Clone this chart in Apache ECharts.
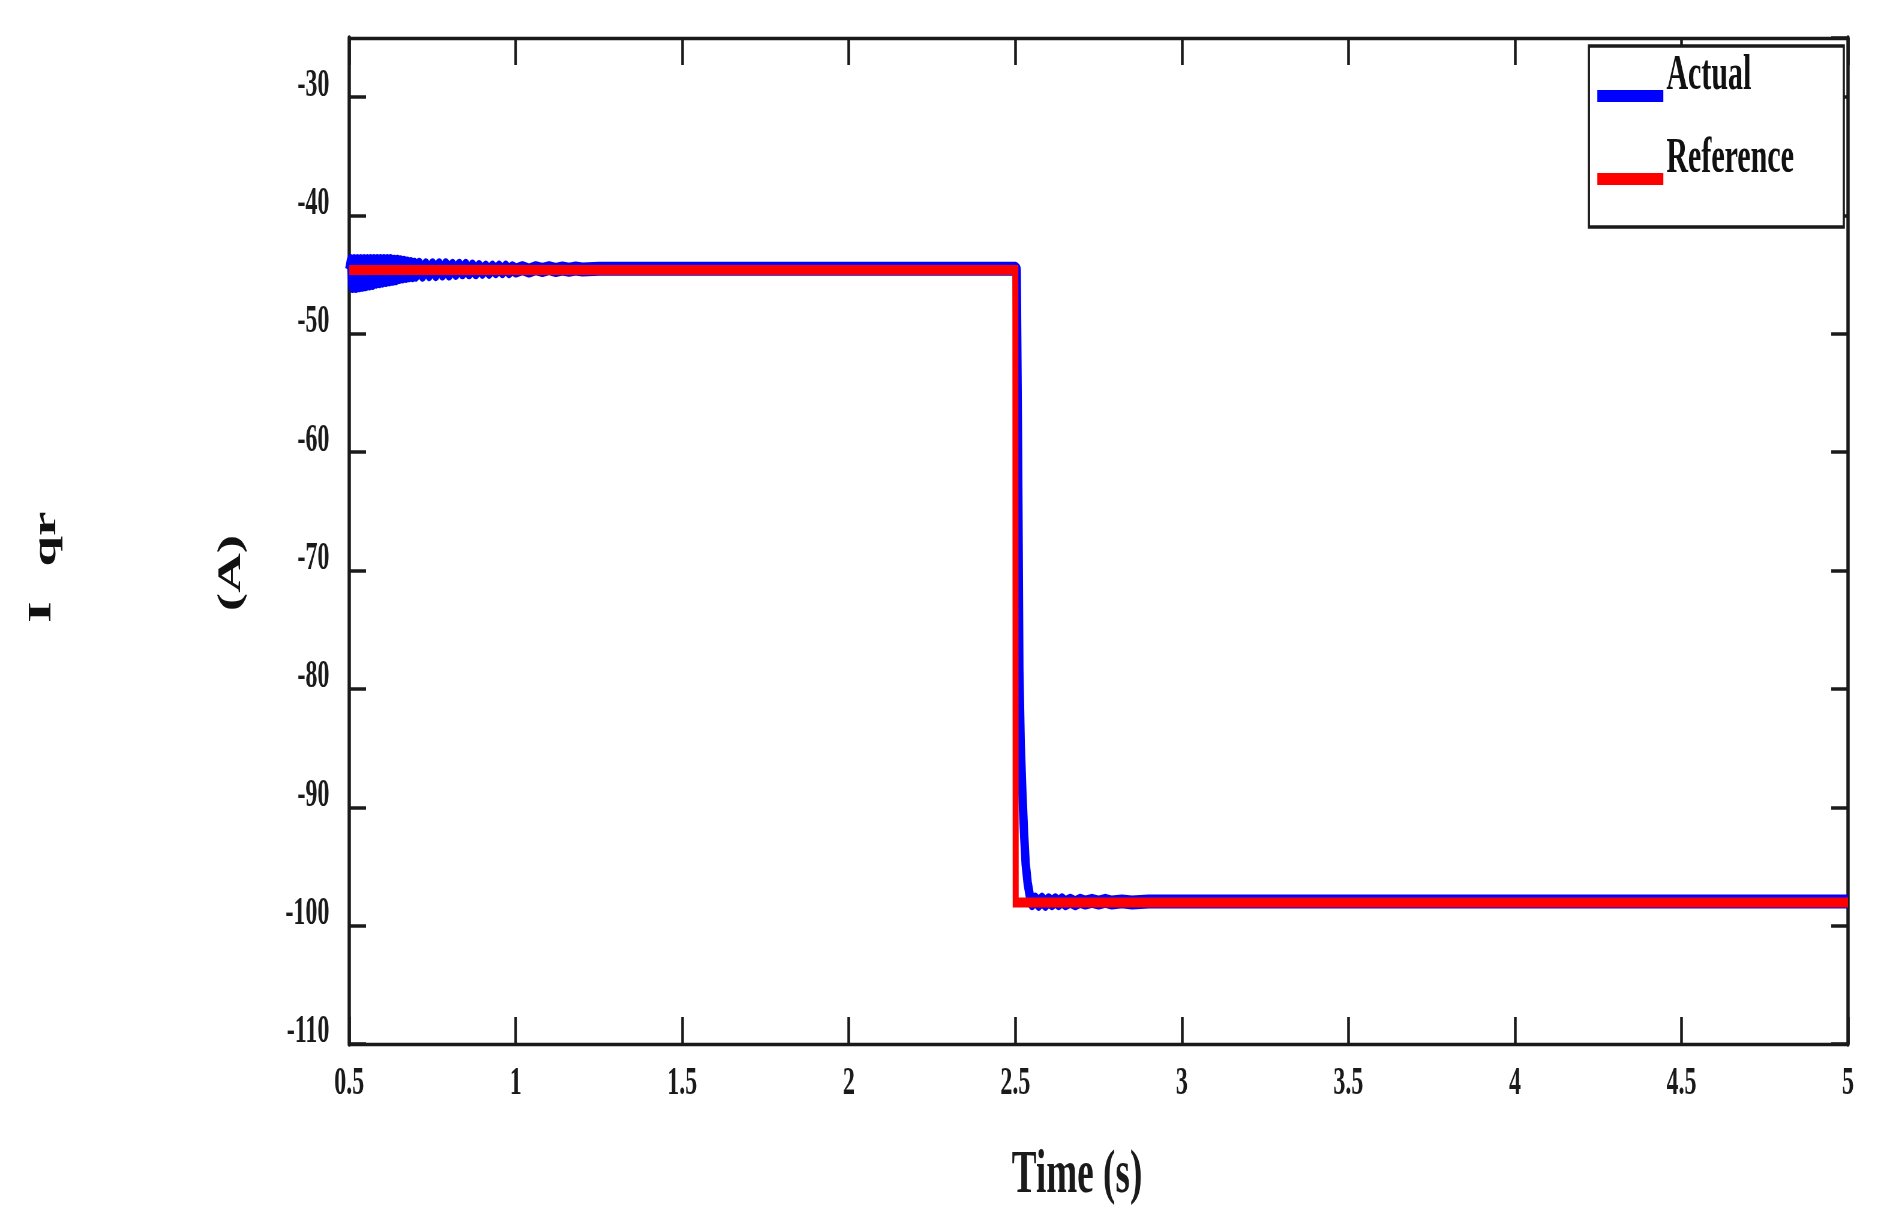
<!DOCTYPE html>
<html>
<head>
<meta charset="utf-8">
<script src="https://cdn.jsdelivr.net/npm/echarts@6/dist/echarts.min.js"></script>
<style>
html,body{margin:0;padding:0;overflow:hidden;background:#fff;width:1899px;height:1231px;}
#wrap{width:1899px;height:1231px;overflow:hidden;position:relative;}
#chart{width:3165px;height:1231px;transform:scaleX(0.6);transform-origin:0 0;position:absolute;left:0;top:0;}
</style>
</head>
<body>
<div id="wrap"><div id="chart"></div></div>
<script>
// ---- data ----
const seriesNames = ['Actual', 'Reference'];

const actualT = [
  0.500,0.505,0.510,0.515,0.520,0.525,0.530,0.535,0.540,0.545,
  0.550,0.555,0.560,0.565,0.570,0.575,0.580,0.585,0.590,0.595,
  0.600,0.605,0.610,0.615,0.620,0.625,0.630,0.635,0.640,0.645,
  0.650,0.655,0.660,0.665,0.670,0.675,0.680,0.685,0.690,0.695,
  0.700,0.710,0.720,0.730,0.740,0.750,0.760,0.770,0.780,0.790,
  0.800,0.810,0.820,0.830,0.840,0.850,0.860,0.870,0.880,0.890,
  0.900,0.910,0.920,0.930,0.940,0.950,0.960,0.970,0.980,0.990,
  1.000,1.020,1.040,1.060,1.080,1.100,1.120,1.140,1.160,1.180,
  1.200,1.250,2.500,
  2.504,2.508,2.512,2.516,2.521,2.526,2.531,2.537,2.543,2.550,
  2.560,2.570,2.580,2.590,2.600,2.610,2.620,2.630,2.640,2.650,
  2.665,2.680,2.695,2.710,2.730,2.750,2.770,2.790,2.820,2.850,
  2.900,5.000
];
const actualV = [
  -44.6,-43.85,-45.95,-43.85,-45.95,-43.85,-45.9,-43.85,-45.85,-43.85,
  -45.8,-43.85,-45.75,-43.85,-45.7,-43.85,-45.6,-43.85,-45.55,-43.85,
  -45.5,-43.85,-45.45,-43.85,-45.4,-43.85,-45.35,-43.9,-45.3,-43.9,
  -45.2,-43.95,-45.15,-44.0,-45.1,-44.05,-45.05,-44.1,-45.05,-44.15,
  -45.0,-44.15,-45.0,-44.2,-44.95,-44.2,-44.95,-44.2,-44.9,-44.2,
  -44.9,-44.25,-44.85,-44.25,-44.8,-44.25,-44.8,-44.3,-44.8,-44.35,
  -44.75,-44.4,-44.75,-44.4,-44.7,-44.4,-44.7,-44.4,-44.7,-44.45,
  -44.65,-44.45,-44.65,-44.45,-44.6,-44.45,-44.6,-44.48,-44.58,-44.48,
  -44.56,-44.5,-44.5,
  -44.6,-59.4,-78.4,-84.6,-88.7,-92.1,-94.8,-96.4,-97.4,-98.1,
  -97.8,-98.15,-97.8,-98.15,-97.85,-98.1,-97.85,-98.1,-97.85,-98.1,
  -97.9,-98.1,-97.9,-98.05,-97.9,-98.05,-97.9,-98.05,-97.95,-98.05,
  -97.95,-97.95
];

const refT = [0.5, 2.5, 2.501, 5.0];
const refV = [-44.6, -44.6, -98.05, -98.05];

const xTicks = { min: 0.5, max: 5, step: 0.5 };
const yTicks = { min: -110, max: -25, step: 10 };

const yLabelParts = ['I', 'qr', '(A)'];
const xTitle = 'Time (s)';

// ---- chart ----
const FONT = '"Liberation Serif", "Times New Roman", serif';
const INK = '#1a1a1a';

const actualData = actualT.map((t, i) => [t, actualV[i]]);
const refData = refT.map((t, i) => [t, refV[i]]);

const chart = echarts.init(document.getElementById('chart'), null, { renderer: 'canvas' });

const axisLineX = { show: true, lineStyle: { color: INK, width: 3.3 } };
const axisLineY = { show: true, lineStyle: { color: INK, width: 5.5 } };
const tickX = { show: true, inside: true, length: 27, lineStyle: { color: INK, width: 4.5 } };
const tickY = { show: true, inside: true, length: 28, lineStyle: { color: INK, width: 3.5 } };

const rotText = (txt, x, y) => ({
  type: 'text', x: x, y: y, rotation: Math.PI / 2,
  style: { text: txt, font: 'bold 55px "Liberation Serif"', fill: '#111',
           align: 'center', verticalAlign: 'middle', textAlign: 'center', textVerticalAlign: 'middle' }
});

const option = {
  animation: false,
  backgroundColor: '#ffffff',
  grid: { left: 582, right: 85, top: 38, bottom: 187, containLabel: false },
  xAxis: [
    {
      type: 'value', position: 'bottom',
      min: xTicks.min, max: xTicks.max, interval: xTicks.step,
      axisLine: axisLineX, axisTick: tickX, splitLine: { show: false },
      axisLabel: { margin: 20, fontFamily: FONT, fontSize: 40, fontWeight: 'bold', color: INK }
    },
    {
      type: 'value', position: 'top',
      min: xTicks.min, max: xTicks.max, interval: xTicks.step,
      axisLine: axisLineX, axisTick: tickX, splitLine: { show: false },
      axisLabel: { show: false }
    }
  ],
  yAxis: [
    {
      type: 'value', position: 'left',
      min: yTicks.min, max: yTicks.max, interval: yTicks.step,
      axisLine: axisLineY, axisTick: tickY, splitLine: { show: false },
      axisLabel: { margin: 33, fontFamily: FONT, fontSize: 40, fontWeight: 'bold', color: INK,
                   verticalAlign: 'bottom', lineHeight: 24, showMaxLabel: false }
    },
    {
      type: 'value', position: 'right',
      min: yTicks.min, max: yTicks.max, interval: yTicks.step,
      axisLine: axisLineY, axisTick: tickY, splitLine: { show: false },
      axisLabel: { show: false }
    }
  ],
  legend: {
    orient: 'vertical', align: 'left',
    right: 92, top: 46,
    padding: [5, 83, 3, 14],
    itemGap: -7, itemWidth: 110, itemHeight: 12,
    backgroundColor: '#ffffff', borderColor: INK, borderWidth: 3.5, borderRadius: 0,
    selectedMode: false,
    formatter: function (name) { return name + '\n '; },
    textStyle: { fontFamily: FONT, fontSize: 50, fontWeight: 'bold', lineHeight: 40, color: '#111' },
    data: [{ name: seriesNames[0], icon: 'rect' }, { name: seriesNames[1], icon: 'rect' }]
  },
  graphic: [
    rotText(yLabelParts[0], 70, 612),
    rotText(yLabelParts[1], 78, 539),
    rotText(yLabelParts[2], 386, 573),
    {
      type: 'text', x: 1795, y: 1176,
      style: { text: xTitle, font: 'bold 62px "Liberation Serif"', fill: INK,
               align: 'center', verticalAlign: 'middle', textAlign: 'center', textVerticalAlign: 'middle' }
    }
  ],
  series: [
    {
      name: seriesNames[0], type: 'line', data: actualData,
      xAxisIndex: 0, yAxisIndex: 0,
      showSymbol: false, symbol: 'none', z: 2,
      lineStyle: { color: '#0000ff', width: 14, join: 'round', cap: 'butt' },
      itemStyle: { color: '#0000ff' }
    },
    {
      name: seriesNames[1], type: 'line', data: refData,
      xAxisIndex: 0, yAxisIndex: 0,
      showSymbol: false, symbol: 'none', z: 3,
      lineStyle: { color: '#ff0000', width: 10, join: 'miter', cap: 'butt' },
      itemStyle: { color: '#ff0000' }
    }
  ]
};

chart.setOption(option);
</script>
</body>
</html>
